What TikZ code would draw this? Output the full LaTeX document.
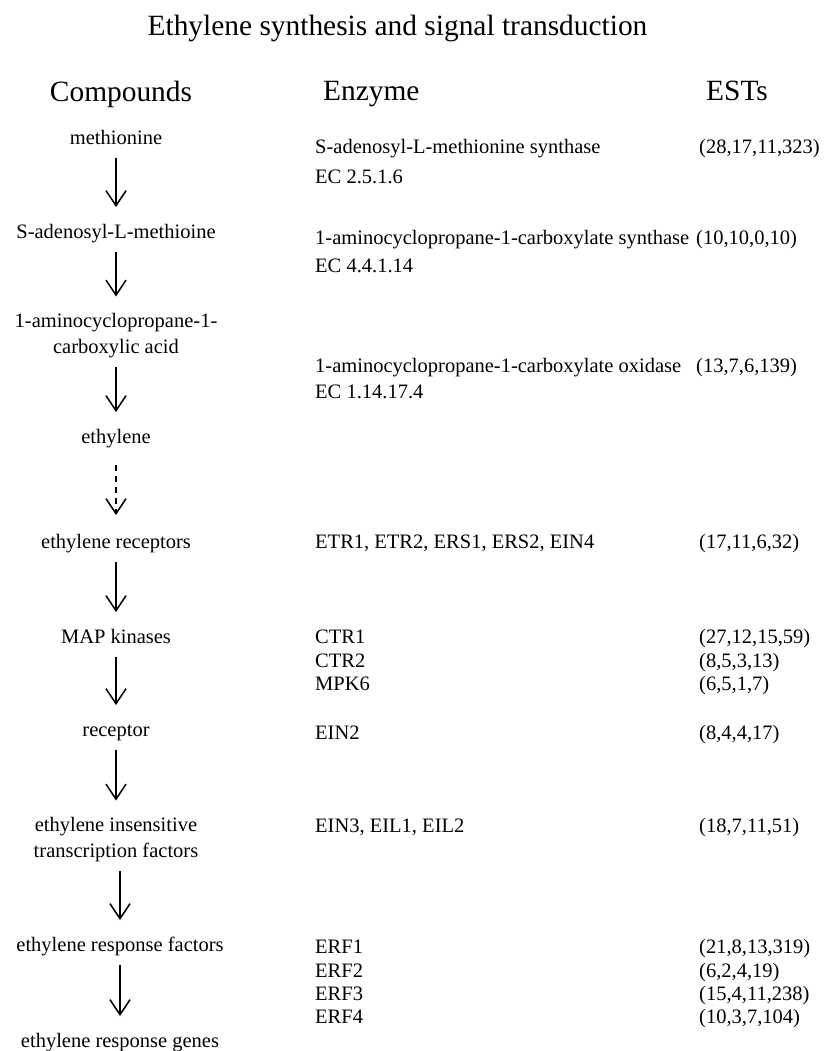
\documentclass[tikz,border=0pt]{standalone}
\usepackage{fontspec}
\setmainfont{Liberation Serif}
\usetikzlibrary{arrows.meta}
\tikzset{
  bodyfont/.style={font=\fontsize{20.5}{25.5}\selectfont},
  compound/.style={bodyfont, inner sep=0pt, anchor=base, align=center},
  enzyme/.style={bodyfont, inner sep=0pt, anchor=base west},
  estcount/.style={bodyfont, inner sep=0pt, anchor=base west},
  header/.style={font=\fontsize{29.4}{35}\selectfont, inner sep=0pt},
  arr/.style={line width=1.5pt, -{Straight Barb[length=15pt,width=20pt,line width=1.5pt]},
              shorten <=13.5pt, shorten >=31pt},
  dasharr/.style={arr, dash pattern=on 6pt off 5pt, shorten <=22pt, shorten >=33pt}
}
\begin{document}
\begin{tikzpicture}[x=1pt,y=1pt]
\path[use as bounding box, fill=white] (0,0) rectangle (839,-1051);

% title and headers
\node[header, anchor=base] (title) at (397.5,-36) {Ethylene synthesis and signal transduction};
\node[header, anchor=base] (hcomp) at (121,-102) {Compounds};
\node[header, anchor=base west] (henz) at (323,-101) {Enzyme};
\node[header, anchor=base west] (hest) at (706,-101) {ESTs};

% compounds
\node[compound] (m1) at (116,-145) {methionine};
\node[compound] (m2) at (116,-238) {S-adenosyl-L-methioine};
\node[compound] (m3) at (116,-353) {1-aminocyclopropane-1-\\carboxylic acid};
\node[compound] (m4) at (116,-443) {ethylene};
\node[compound] (m5) at (116,-548) {ethylene receptors};
\node[compound] (m6) at (116,-643) {MAP kinases};
\node[compound] (m7) at (116,-736) {receptor};
\node[compound] (m8) at (116,-857) {ethylene insensitive\\transcription factors};
\node[compound] (m9) at (120,-951) {ethylene response factors};
\node[compound] (m10) at (120,-1047) {ethylene response genes};

% arrows
\draw[arr] (m1.base) -- (m2.base);
\draw[arr] (m2.base) -- ([yshift=25.5pt]m3.base);
\draw[arr] (m3.base) -- (m4.base);
\draw[dasharr] (m4.base) -- (m5.base);
\draw[arr] (m5.base) -- (m6.base);
\draw[arr] (m6.base) -- (m7.base);
\draw[arr] (m7.base) -- ([yshift=25.5pt]m8.base);
\draw[arr] (m9.base |- m8.base) -- (m9.base);
\draw[arr] (m9.base) -- (m10.base);

% enzymes
\node[enzyme] (e1) at (315,-154) {S-adenosyl-L-methionine synthase};
\node[enzyme] (e1b) at (315,-183) {EC 2.5.1.6};
\node[enzyme] (e2) at (315,-244) {1-aminocyclopropane-1-carboxylate synthase};
\node[enzyme] (e2b) at (315,-272) {EC 4.4.1.14};
\node[enzyme] (e3) at (315,-372) {1-aminocyclopropane-1-carboxylate oxidase};
\node[enzyme] (e3b) at (315,-398) {EC 1.14.17.4};
\node[enzyme] (e4) at (315,-548) {ETR1, ETR2, ERS1, ERS2, EIN4};
\node[enzyme] (e5) at (315,-643) {CTR1};
\node[enzyme] (e6) at (315,-667) {CTR2};
\node[enzyme] (e7) at (315,-690) {MPK6};
\node[enzyme] (e8) at (315,-739) {EIN2};
\node[enzyme] (e9) at (315,-832) {EIN3, EIL1, EIL2};
\node[enzyme] (e10) at (315,-953) {ERF1};
\node[enzyme] (e11) at (315,-977) {ERF2};
\node[enzyme] (e12) at (315,-1000) {ERF3};
\node[enzyme] (e13) at (315,-1023) {ERF4};

% EST counts
\node[estcount] (s1) at (699,-154) {(28,17,11,323)};
\node[estcount] (s2) at (696,-244) {(10,10,0,10)};
\node[estcount] (s3) at (696,-372) {(13,7,6,139)};
\node[estcount] (s4) at (699,-548) {(17,11,6,32)};
\node[estcount] (s5) at (699,-643) {(27,12,15,59)};
\node[estcount] (s6) at (699,-667) {(8,5,3,13)};
\node[estcount] (s7) at (699,-690) {(6,5,1,7)};
\node[estcount] (s8) at (699,-739) {(8,4,4,17)};
\node[estcount] (s9) at (699,-832) {(18,7,11,51)};
\node[estcount] (s10) at (699,-953) {(21,8,13,319)};
\node[estcount] (s11) at (699,-977) {(6,2,4,19)};
\node[estcount] (s12) at (699,-1000) {(15,4,11,238)};
\node[estcount] (s13) at (699,-1023) {(10,3,7,104)};
\end{tikzpicture}
\end{document}
